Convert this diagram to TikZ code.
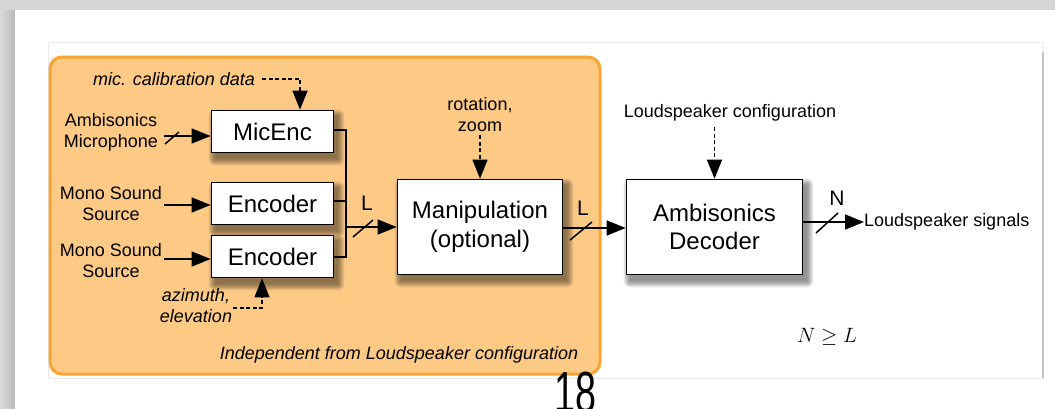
\documentclass[tikz,border=0pt]{standalone}
\usepackage{fontspec}
\setmainfont{Liberation Sans}
\usetikzlibrary{arrows.meta}
\definecolor{orfill}{HTML}{FDCA86}
\definecolor{ordraw}{HTML}{F8A432}
\definecolor{pagegray}{HTML}{D6D6D6}
\definecolor{framegray}{HTML}{EBEBEB}
\pgfdeclarelayer{bg}
\pgfdeclarelayer{shadow}
\pgfsetlayers{bg,shadow,main}
\begin{document}
\begin{tikzpicture}[x=1pt,y=-1pt,
  blockbox/.style={draw=black, fill=white, line width=1.7pt, inner sep=0pt, align=center,
    font=\fontsize{24}{28.5}\selectfont},
  lbl/.style={inner sep=0pt, align=center, font=\fontsize{18}{21}\selectfont},
  ilbl/.style={inner sep=0pt, align=center, font=\fontsize{18}{21}\selectfont\itshape},
  sig/.style={line width=1.5pt, -{Triangle[length=19pt,width=15pt]}},
  ctl/.style={line width=1.5pt, dash pattern=on 4pt off 2.5pt, -{Triangle[length=19pt,width=15pt]}},
  bus/.style={line width=1.5pt},
  slashmark/.style={line width=1.5pt},
  chan/.style={inner sep=0pt, font=\fontsize{21}{24}\selectfont}]
\useasboundingbox (0,0) rectangle (1055,408);

% page background
\begin{pgfonlayer}{bg}
\fill[pagegray] (0,0) rectangle (1055,408);
\shade[left color=pagegray!90, right color=gray!55] (0,10) rectangle (15,408);
\fill[white] (15,10) rectangle (1055,408);
\draw[framegray, line width=1pt] (48,42) rectangle (1043,378);
\draw[gray!45, line width=2pt] (1043,52) -- (1043,378);
\draw[ordraw, fill=orfill, line width=3pt, rounded corners=12pt] (50,57) rectangle (600,374);
\end{pgfonlayer}

% blocks
\node[blockbox, minimum width=122pt, minimum height=42pt] (mic) at (272.5,131.5) {MicEnc};
\node[blockbox, minimum width=122pt, minimum height=42pt] (enc1) at (272.5,203.5) {Encoder};
\node[blockbox, minimum width=122pt, minimum height=42pt] (enc2) at (272.5,256.5) {Encoder};
\node[blockbox, minimum width=165pt, minimum height=95pt] (man) at (480,227) {Manipulation\\(optional)};
\node[blockbox, minimum width=176pt, minimum height=95pt] (dec) at (714.5,227) {Ambisonics\\Decoder};

% shadows
\begin{pgfonlayer}{shadow}
\foreach \n in {mic,enc1,enc2,man,dec}{
  \foreach \s in {0,1,...,6}{
    \fill[black, opacity=0.075, rounded corners=\s pt]
      ([shift={(4-\s,6-\s)}]\n.north west) rectangle ([shift={(4+\s,6+\s)}]\n.south east);
  }
}
\end{pgfonlayer}

% labels
\node[lbl] (amb) at (111,132.5) {Ambisonics\\Microphone};
\node[lbl] (mono1) at (111,203.5) {Mono Sound\\Source};
\node[lbl] (mono2) at (111,261) {Mono Sound\\Source};
\node[ilbl] (cal) at (174,79) {mic. calibration data};
\node[ilbl] (azi) at (196,306) {azimuth,\\elevation};
\node[lbl] (rot) at (480,115) {rotation,\\zoom};
\node[lbl] (lsc) at (730,113) {Loudspeaker configuration};
\node[lbl, anchor=west] (lss) at (864,222) {Loudspeaker signals};
\node[ilbl] (ind) at (399,355) {Independent from Loudspeaker configuration};
\node[chan] (L1) at (367,203) {L};
\node[chan] (L2) at (583,208) {L};
\node[chan] (N1) at (837,198) {N};
\node[inner sep=0pt, font=\fontsize{22}{26}\selectfont] (ineq) at (827,337) {$N \geq L$};
\node[inner sep=0pt, font=\fontsize{58}{66}\selectfont, xscale=0.65, anchor=north] (pg) at (575,372) {18};

% inputs
\coordinate (a1) at (164,136);
\coordinate (m1) at (164,205);
\coordinate (m2) at (164,259);
\draw[sig] (a1) -- (a1 -| mic.west);
\draw[slashmark] (165,144) -- (179,132);
\draw[sig] (m1) -- (m1 -| enc1.west);
\draw[sig] (m2) -- (m2 -| enc2.west);

% bus
\coordinate (bus) at (346,227);
\draw[bus] (mic.east |- 0,130) -- (346,130) -- (346,257) -- (enc2.east |- 0,257);
\draw[bus] (enc1.east |- 0,201) -- (346,201);
\draw[sig] (bus) -- (bus -| man.west);
\draw[slashmark] (353,237) -- (373,220);

% manipulation -> decoder
\draw[sig] (man.east |- 0,228) -- (dec.west |- 0,228);
\draw[slashmark] (570,240) -- (592,222);

% decoder -> loudspeakers
\draw[sig] (dec.east |- lss.west) -- (lss.west);
\draw[slashmark] (816,233) -- (838,213);

% control inputs
\draw[ctl] ([xshift=7pt]cal.east) -- (300,79) -- (mic.north -| 300,0);
\draw[ctl] ([xshift=1pt]azi.east |- 0,308) -- (262,308) -- (enc2.south -| 262,0);
\draw[ctl] ([yshift=-3pt]rot.south) -- (man.north);
\draw[ctl] (dec.north |- 0,127) -- (dec.north);
\end{tikzpicture}
\end{document}
